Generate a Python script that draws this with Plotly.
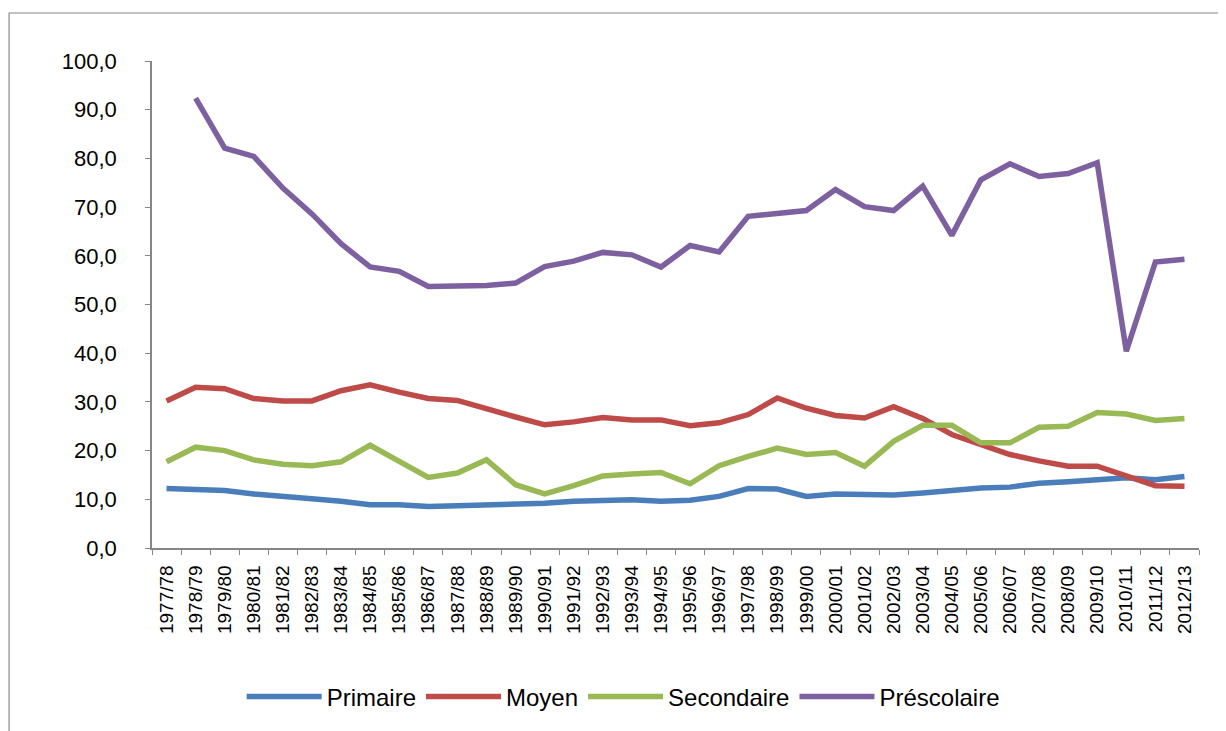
import plotly.graph_objects as go

# annees scolaires
annees = ["1977/78", "1978/79", "1979/80", "1980/81", "1981/82", "1982/83", "1983/84",
          "1984/85", "1985/86", "1986/87", "1987/88", "1988/89", "1989/90", "1990/91",
          "1991/92", "1992/93", "1993/94", "1994/95", "1995/96", "1996/97", "1997/98",
          "1998/99", "1999/00", "2000/01", "2001/02", "2002/03", "2003/04", "2004/05",
          "2005/06", "2006/07", "2007/08", "2008/09", "2009/10", "2010/11", "2011/12",
          "2012/13"]

primaire = [12.2, 12.0, 11.8, 11.1, 10.7, 10.1, 9.6, 8.9, 8.9, 8.5, 8.7, 8.9, 8.9, 9.2,
            9.6, 9.7, 9.9, 9.6, 9.8, 10.6, 12.2, 12.1, 10.6, 11.1, 11.0, 10.9, 11.3, 11.8,
            12.3, 12.5, 13.3, 13.6, 14.0, 14.4, 14.0, 14.7]

moyen = [30.2, 33.0, 32.7, 30.7, 30.2, 30.2, 32.3, 33.5, 32.0, 30.7, 30.3, 28.5, 26.9, 25.3,
         25.9, 26.8, 26.3, 26.3, 25.1, 25.7, 27.4, 30.8, 28.7, 27.2, 26.7, 29.0, 26.6, 23.3,
         21.2, 19.2, 17.9, 16.8, 16.8, 14.8, 12.8, 12.7]

secondaire = [17.7, 20.7, 20.0, 18.1, 17.2, 16.9, 17.7, 21.1, 17.8, 14.5, 15.4, 18.1, 13.0, 11.1,
              12.8, 14.8, 15.2, 15.5, 13.2, 16.9, 18.8, 20.5, 19.2, 19.6, 16.8, 21.9, 25.2, 25.2,
              21.6, 21.6, 24.8, 25.0, 27.8, 27.5, 26.2, 26.6]

prescolaire = [None, 92.4, 82.1, 80.4, 73.9, 68.6, 62.5, 57.7, 56.8, 53.7, 53.9, 53.9, 54.4, 57.8,
               58.9, 60.7, 60.2, 57.7, 62.1, 60.8, 68.1, 68.6, 69.3, 73.6, 70.1, 69.3, 74.3, 64.2,
               75.6, 78.9, 76.3, 76.9, 79.1, 40.4, 58.7, 59.3]

series = [
    ("Primaire", primaire, "#4A7EBB"),
    ("Moyen", moyen, "#BE4B48"),
    ("Secondaire", secondaire, "#98B954"),
    ("Préscolaire", prescolaire, "#7D60A0"),
]

fig = go.Figure()
for nom, vals, couleur in series:
    fig.add_trace(go.Scatter(x=annees, y=vals, name=nom, mode="lines",
                             line=dict(color=couleur, width=5.5)))

axe_gris = "#868686"

# la page a une marge de 8px autour du graphique -> on compense
fig.update_layout(
    width=1218, height=723,
    plot_bgcolor="white", paper_bgcolor="white",
    margin=dict(l=144, r=27, t=53, b=183, autoexpand=False),
    font=dict(family="Liberation Sans, Arial, sans-serif", color="black"),
    separators=",.",
    showlegend=True,
    legend=dict(orientation="h", x=0.45, xanchor="center", y=-0.306, yanchor="middle",
                font=dict(size=24), itemwidth=75, tracegroupgap=0),
)

fig.update_yaxes(range=[0, 100], dtick=10, tickformat=".1f", showgrid=False,
                 showline=True, linecolor=axe_gris, linewidth=1.5,
                 ticks="outside", ticklen=5, tickcolor=axe_gris, ticklabelstandoff=24,
                 tickfont=dict(size=22), zeroline=False, automargin=False)

fig.update_xaxes(type="category", range=[-0.5, len(annees) - 0.5], tickangle=-90,
                 showgrid=False, showline=True, linecolor=axe_gris, linewidth=1.5,
                 ticks="outside", ticklen=5, tickcolor=axe_gris, tickson="boundaries",
                 ticklabelstandoff=8, tickfont=dict(size=19), automargin=False)

# cadre du graphique
fig.add_shape(type="rect", xref="paper", yref="paper",
              x0=-0.1365, x1=1.0239, y0=-0.39, y1=1.0986,
              line=dict(color=axe_gris, width=1.2), layer="below")

fig.write_html("out.html")
